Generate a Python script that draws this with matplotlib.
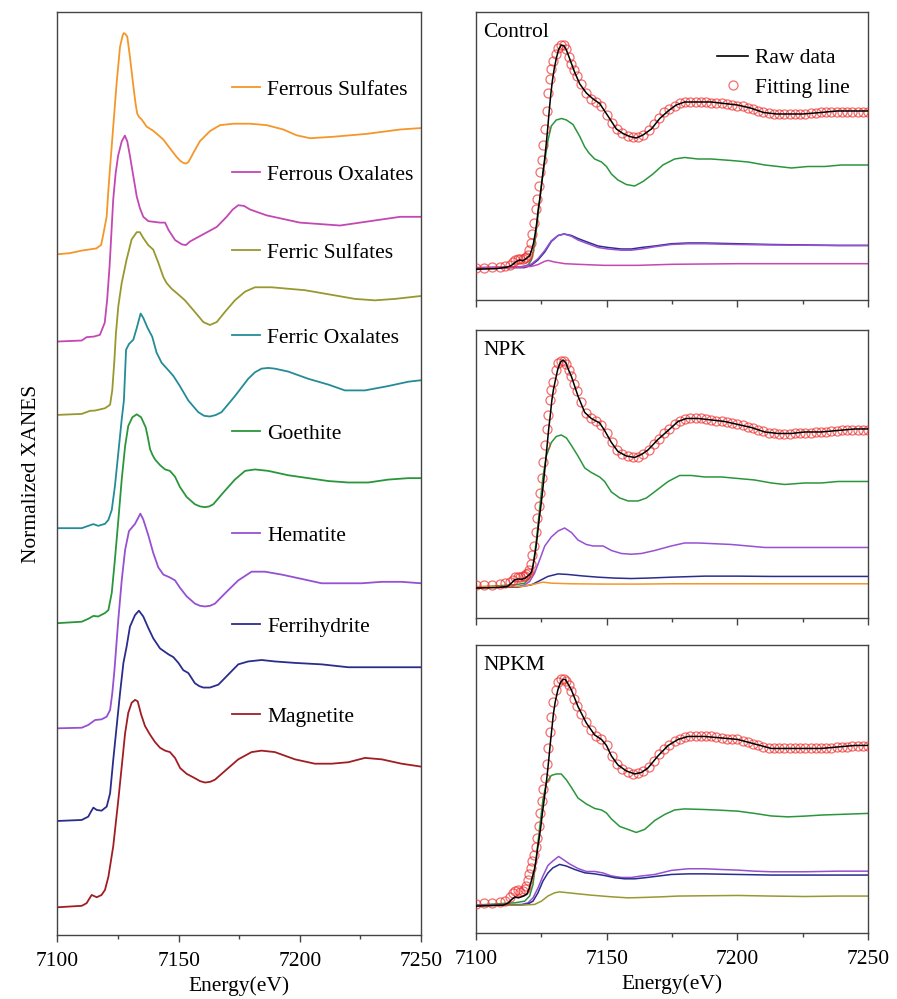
import matplotlib
matplotlib.use('Agg')
import matplotlib.pyplot as plt
from matplotlib.lines import Line2D
from matplotlib.legend import Legend
from matplotlib.ticker import MultipleLocator

plt.rcParams['font.family'] = ['Liberation Serif', 'DejaVu Serif']
FS = 15.5

# ---------------- Left panel: reference spectra (normalized, stacked) ----------------
ref_names = ["Ferrous Sulfates", "Ferrous Oxalates", "Ferric Sulfates", "Ferric Oxalates",
             "Goethite", "Hematite", "Ferrihydrite", "Magnetite"]
ref_colors = ["#F5962A", "#C348B4", "#989830", "#238C96", "#2A963C", "#9650D2", "#2A2D8C", "#A01E23"]
ref_offsets = [4.503, 3.901, 3.395, 2.614, 1.959, 1.234, 0.595, 0.0]
ref_label_y = [0.9155, 0.8234, 0.7389, 0.6468, 0.5428, 0.4323, 0.3337, 0.2362]

E_fsul = [7100, 7105, 7110, 7112, 7116, 7118, 7119, 7120.3, 7120.9, 7121.7, 7123, 7124.4, 7125.8,
          7126.9, 7127.4, 7127.9, 7128.8, 7129.9, 7131.3, 7132.2, 7132.9, 7133.7, 7134.7, 7136.8,
          7139.6, 7141.7, 7143.7, 7146.4, 7149.2, 7150.6, 7151.9, 7153, 7154, 7155, 7156.1, 7158.8,
          7163, 7167.1, 7172.6, 7179.5, 7186.3, 7193.2, 7198.7, 7204.2, 7213.9, 7227.6, 7241.4, 7250]
y_fsul = [0, 0.007, 0.025, 0.03, 0.04, 0.064, 0.145, 0.26, 0.42, 0.60, 0.88, 1.18, 1.43,
          1.51, 1.525, 1.52, 1.50, 1.36, 1.16, 1.04, 0.97, 0.945, 0.93, 0.88,
          0.85, 0.82, 0.79, 0.73, 0.67, 0.645, 0.63, 0.625, 0.635, 0.665, 0.70, 0.78,
          0.85, 0.89, 0.90, 0.90, 0.89, 0.86, 0.82, 0.80, 0.81, 0.83, 0.86, 0.87]

E_foxa = [7100, 7110, 7112, 7115, 7117.5, 7119.5, 7120.5, 7121.5, 7123, 7124, 7125, 7126.5,
          7127.8, 7128.8, 7129.9, 7131.3, 7132.7, 7134, 7135.4, 7137.5, 7142.3, 7144.4, 7145.8,
          7148.5, 7151.3, 7153, 7154.7, 7160.2, 7165.7, 7169.8, 7172.3, 7174.6, 7177, 7179.5,
          7186.3, 7200, 7216.6, 7229, 7241.4, 7250]
y_foxa = [0, 0.007, 0.03, 0.034, 0.046, 0.13, 0.29, 0.52, 0.98, 1.16, 1.28, 1.38,
          1.42, 1.38, 1.28, 1.14, 1.00, 0.92, 0.86, 0.83, 0.82, 0.82, 0.77,
          0.70, 0.67, 0.665, 0.69, 0.74, 0.79, 0.86, 0.91, 0.94, 0.935, 0.91,
          0.87, 0.82, 0.80, 0.83, 0.86, 0.86]

E_fesu = [7100, 7110, 7113.4, 7115.5, 7119.6, 7121.7, 7122.6, 7123.5, 7124.1, 7125.1, 7126.5,
          7128.5, 7130.6, 7132.7, 7134, 7135.4, 7137.5, 7139.5, 7141.6, 7143.7, 7145, 7147.1,
          7149.9, 7152.6, 7156.7, 7160.2, 7162.9, 7165.7, 7169.1, 7173.2, 7177.4, 7181.5,
          7188.4, 7195.2, 7202.1, 7209, 7215.9, 7222.7, 7231, 7239.3, 7250]
y_fesu = [0, 0.007, 0.028, 0.03, 0.046, 0.07, 0.17, 0.38, 0.56, 0.75, 0.91,
          1.07, 1.21, 1.26, 1.26, 1.22, 1.17, 1.14, 1.05, 0.95, 0.91, 0.87,
          0.83, 0.79, 0.71, 0.64, 0.62, 0.64, 0.71, 0.79, 0.85, 0.88,
          0.88, 0.87, 0.86, 0.84, 0.82, 0.80, 0.79, 0.80, 0.82]

E_feox = [7100, 7110, 7112.7, 7114.8, 7116.8, 7119.6, 7121, 7122.4, 7123.7, 7125.1, 7126.5,
          7127.4, 7128.3, 7129.5, 7131.3, 7132.7, 7134.3, 7135.4, 7137.2, 7139.1, 7140.9, 7143,
          7145.7, 7147.8, 7150.5, 7154, 7158.1, 7160.5, 7162.9, 7165.3, 7167.7, 7173.2, 7178.7,
          7181.5, 7184.2, 7187, 7189.7, 7195.2, 7203.5, 7211.8, 7218.6, 7226.9, 7236.5, 7244.8, 7250]
y_feox = [0, 0, 0.016, 0.028, 0.016, 0.03, 0.057, 0.126, 0.29, 0.52, 0.75,
          0.88, 1.23, 1.27, 1.30, 1.38, 1.48, 1.45, 1.38, 1.32, 1.21, 1.14,
          1.09, 1.05, 0.98, 0.88, 0.80, 0.775, 0.77, 0.78, 0.80, 0.91, 1.03,
          1.075, 1.10, 1.105, 1.10, 1.08, 1.03, 0.99, 0.95, 0.95, 0.98, 1.01, 1.02]

E_goe = [7100, 7110, 7112.7, 7114.8, 7116.8, 7119.6, 7121, 7122.4, 7123.7, 7125.1, 7126.5,
         7127.9, 7129.2, 7130.9, 7132.7, 7134.5, 7136.4, 7137.3, 7138.2, 7139.2, 7140.2, 7142.3,
         7144.4, 7146.4, 7148.5, 7150.5, 7153.3, 7156.7, 7158.8, 7160.9, 7162.6, 7164.3, 7168.4,
         7173.2, 7177.4, 7181.5, 7187, 7195.2, 7203.5, 7211.8, 7220, 7228.3, 7236.5, 7244.8, 7250]
y_goe = [0, 0.01, 0.03, 0.05, 0.046, 0.07, 0.09, 0.21, 0.44, 0.71, 0.99,
         1.22, 1.36, 1.42, 1.44, 1.42, 1.35, 1.28, 1.20, 1.16, 1.13, 1.09,
         1.06, 1.05, 1.01, 0.94, 0.87, 0.82, 0.805, 0.80, 0.805, 0.82, 0.90,
         0.99, 1.05, 1.06, 1.05, 1.02, 1.00, 0.98, 0.97, 0.97, 0.99, 1.00, 1.00]

E_hem = [7100, 7110, 7112.7, 7115.5, 7118.2, 7120.3, 7121.7, 7122.6, 7123.5, 7125.1, 7126.5,
         7127.9, 7129.5, 7132, 7134.2, 7135.4, 7137.5, 7139.5, 7141.6, 7143.7, 7146.4, 7148.5,
         7150.5, 7153.3, 7156.7, 7158.8, 7160.9, 7163, 7165, 7169.1, 7174.6, 7180.1, 7185.6,
         7192.5, 7200.8, 7209, 7217.3, 7225.5, 7233.8, 7242, 7250]
y_hem = [0, 0.004, 0.023, 0.057, 0.062, 0.08, 0.126, 0.24, 0.40, 0.75, 1.02,
         1.23, 1.36, 1.41, 1.48, 1.44, 1.33, 1.21, 1.11, 1.06, 1.04, 1.02,
         0.97, 0.91, 0.86, 0.845, 0.84, 0.845, 0.86, 0.93, 1.02, 1.08, 1.08,
         1.06, 1.03, 1.00, 1.00, 1.00, 1.01, 1.01, 1.00]

E_fh = [7100, 7110, 7112.7, 7113.8, 7114.8, 7116.2, 7118.2, 7120.3, 7121.7, 7123, 7124.4,
        7125.8, 7127.2, 7128.5, 7129.9, 7132, 7133.6, 7135.4, 7137.5, 7139.5, 7142.3, 7145.7,
        7147.8, 7149.9, 7151.9, 7154, 7156.7, 7158.5, 7160.2, 7162.9, 7166.4, 7170.5, 7174.6,
        7178.7, 7184.2, 7189.7, 7198, 7209, 7220, 7231, 7242, 7250]
y_fh = [0, 0.007, 0.03, 0.064, 0.092, 0.076, 0.071, 0.099, 0.19, 0.42, 0.65,
        0.88, 1.09, 1.20, 1.34, 1.42, 1.45, 1.41, 1.33, 1.26, 1.19, 1.15,
        1.13, 1.09, 1.04, 1.02, 0.95, 0.93, 0.92, 0.92, 0.94, 1.01, 1.08,
        1.10, 1.11, 1.10, 1.09, 1.08, 1.06, 1.06, 1.06, 1.06]

E_mag = [7100, 7110, 7112, 7114.1, 7116.2, 7118.2, 7119.6, 7121, 7123, 7125.1, 7126.5,
         7127.9, 7129.2, 7130.6, 7132, 7133.1, 7134.5, 7136.1, 7138.2, 7140.2, 7142.3, 7144.4,
         7146.4, 7148.5, 7150.6, 7153.3, 7156.7, 7158.8, 7160.9, 7163, 7165, 7169.1, 7174.6,
         7180.1, 7184.2, 7189.7, 7198, 7206.2, 7213.1, 7220, 7226.9, 7233.8, 7242, 7250]
y_mag = [0, 0.01, 0.028, 0.085, 0.069, 0.085, 0.12, 0.21, 0.42, 0.74, 0.97,
         1.20, 1.34, 1.41, 1.43, 1.42, 1.33, 1.25, 1.19, 1.14, 1.10, 1.08,
         1.07, 1.03, 0.96, 0.92, 0.89, 0.87, 0.86, 0.865, 0.88, 0.94, 1.02,
         1.07, 1.08, 1.07, 1.02, 0.99, 0.99, 1.00, 1.03, 1.02, 0.99, 0.97]

ref_E = [E_fsul, E_foxa, E_fesu, E_feox, E_goe, E_hem, E_fh, E_mag]
ref_y = [y_fsul, y_foxa, y_fesu, y_feox, y_goe, y_hem, y_fh, y_mag]

# ---------------- Right panels: samples ----------------
panel_names = ["Control", "NPK", "NPKM"]
panel_ylims = [(-0.22, 1.70), (-0.21, 1.71), (-0.19, 1.73)]

# energy grid of the fitted curves
E_fit = [7100, 7103, 7106, 7109, 7111, 7113, 7114, 7115, 7116, 7117, 7118, 7118.6, 7119.2,
         7119.8, 7120.4, 7121, 7121.6, 7122.2, 7122.8, 7123.4, 7124, 7124.6, 7125.2, 7125.8,
         7126.4, 7127, 7127.6, 7128.2, 7128.8, 7129.5, 7130.5, 7131.5, 7132.5, 7133.5, 7134.5,
         7135.5, 7136.5, 7137.5, 7138.5,
         7140, 7142, 7144, 7146, 7148, 7150, 7152, 7154, 7156, 7158, 7160, 7162, 7164, 7166,
         7168, 7170, 7172, 7174, 7176, 7178, 7180, 7182, 7184, 7186, 7188, 7190, 7192, 7194,
         7196, 7198, 7200, 7202, 7204, 7206, 7208, 7210, 7212, 7214, 7216, 7218, 7220, 7222,
         7224, 7226, 7228, 7230, 7232, 7234, 7236, 7238, 7240, 7242, 7244, 7246, 7248, 7250]

fit_control = [-0.005, -0.004, -0.002, 0.0, 0.005, 0.015, 0.03, 0.045, 0.055, 0.052, 0.055, 0.06, 0.068,
               0.08, 0.11, 0.16, 0.22, 0.29, 0.385, 0.455, 0.54, 0.63, 0.71, 0.81,
               0.92, 1.04, 1.16, 1.25, 1.32, 1.37, 1.42, 1.46, 1.48, 1.48, 1.45,
               1.40, 1.35, 1.31, 1.27,
               1.22, 1.16, 1.12, 1.10, 1.07, 1.01, 0.96, 0.92, 0.89, 0.875, 0.865, 0.865, 0.88, 0.91,
               0.95, 0.99, 1.03, 1.055, 1.075, 1.09, 1.10, 1.10, 1.10, 1.10, 1.10, 1.095, 1.09, 1.09,
               1.085, 1.08, 1.075, 1.07, 1.06, 1.05, 1.04, 1.03, 1.025, 1.02, 1.02, 1.02, 1.02, 1.02,
               1.02, 1.02, 1.025, 1.025, 1.03, 1.03, 1.03, 1.035, 1.035, 1.035, 1.035, 1.035, 1.035, 1.035]
fit_npk = [0.01, 0.01, 0.012, 0.015, 0.02, 0.03, 0.045, 0.06, 0.065, 0.062, 0.068, 0.072, 0.08,
           0.09, 0.11, 0.15, 0.21, 0.27, 0.36, 0.455, 0.535, 0.625, 0.725, 0.83,
           0.94, 1.05, 1.14, 1.24, 1.31, 1.36, 1.44, 1.49, 1.505, 1.505, 1.48,
           1.44, 1.40, 1.35, 1.30,
           1.23, 1.155, 1.12, 1.10, 1.075, 1.02, 0.96, 0.91, 0.885, 0.87, 0.86, 0.865, 0.885, 0.91,
           0.95, 0.985, 1.02, 1.05, 1.08, 1.10, 1.115, 1.12, 1.12, 1.12, 1.115, 1.11, 1.105, 1.10,
           1.095, 1.09, 1.08, 1.075, 1.065, 1.055, 1.045, 1.035, 1.025, 1.02, 1.015, 1.015, 1.015, 1.02,
           1.02, 1.025, 1.025, 1.03, 1.03, 1.03, 1.035, 1.035, 1.04, 1.04, 1.04, 1.04, 1.04, 1.04]
fit_npkm = [0.005, 0.008, 0.01, 0.015, 0.025, 0.05, 0.075, 0.09, 0.095, 0.085, 0.09, 0.10, 0.12,
            0.16, 0.2, 0.24, 0.29, 0.33, 0.38, 0.445, 0.52, 0.61, 0.69, 0.77,
            0.845, 0.935, 1.04, 1.15, 1.25, 1.35, 1.43, 1.48, 1.50, 1.505, 1.49,
            1.46, 1.42, 1.37, 1.32,
            1.27, 1.215, 1.165, 1.125, 1.10, 1.06, 0.99, 0.935, 0.905, 0.885, 0.872, 0.875, 0.89, 0.915,
            0.955, 1.0, 1.035, 1.065, 1.09, 1.105, 1.115, 1.12, 1.12, 1.12, 1.12, 1.12, 1.115, 1.11,
            1.105, 1.10, 1.10, 1.09, 1.08, 1.07, 1.06, 1.05, 1.045, 1.04, 1.04, 1.04, 1.04, 1.04,
            1.04, 1.04, 1.04, 1.04, 1.04, 1.045, 1.045, 1.05, 1.05, 1.05, 1.055, 1.055, 1.055, 1.055]

# raw data (black)
E_raw_control = [7100, 7108, 7112, 7113.5, 7115.4, 7116.7, 7118, 7119.3, 7120.5, 7121.4, 7122, 7122.6,
                 7123.2, 7123.8, 7124.4, 7125, 7125.6, 7126.2, 7126.8, 7127.4, 7128, 7128.6, 7129.2,
                 7129.9, 7130.7, 7131.6, 7132.6, 7133.6, 7134.5, 7135.8, 7137.7, 7139.7, 7142.2,
                 7144.8, 7147.3, 7149.2, 7151.1, 7153.7, 7156.2, 7158.8, 7161.3, 7163.9, 7167.1,
                 7170.3, 7173.5, 7176.6, 7179.8, 7184.9, 7190, 7195, 7200, 7205, 7210, 7215, 7220,
                 7225, 7232, 7238, 7244, 7250]
raw_control = [-0.015, -0.011, 0.0, 0.01, 0.036, 0.047, 0.042, 0.058, 0.075, 0.12, 0.16, 0.22,
               0.29, 0.385, 0.455, 0.54, 0.63, 0.71, 0.81, 0.92, 1.04, 1.15, 1.24,
               1.32, 1.39, 1.45, 1.48, 1.475, 1.45, 1.39, 1.30, 1.22, 1.16,
               1.12, 1.09, 1.04, 0.99, 0.92, 0.89, 0.87, 0.86, 0.88, 0.92,
               0.99, 1.04, 1.08, 1.10, 1.10, 1.10, 1.09, 1.08, 1.06, 1.03, 1.02, 1.02,
               1.02, 1.03, 1.04, 1.04, 1.04]

E_raw_npk = [7100, 7108, 7112, 7113.5, 7114.8, 7116.1, 7117.5, 7118.8, 7120.2, 7121.2, 7121.8, 7122.4,
             7123, 7123.6, 7124.2, 7124.8, 7125.4, 7126, 7126.6, 7127.2, 7127.8, 7128.4, 7129,
             7129.6, 7130.3, 7131.3, 7132.3, 7133.3, 7134.4, 7135.5, 7136.5, 7139, 7141.6, 7144.1,
             7147.3, 7149.2, 7151.8, 7154.3, 7157.5, 7160.7, 7163.3, 7165.8, 7169.6, 7173.5,
             7177.3, 7180.5, 7185, 7190.1, 7195.1, 7200.2, 7205.3, 7210.5, 7215.5, 7220.7,
             7225.8, 7232.1, 7238.5, 7244.9, 7250]
raw_npk = [-0.011, -0.007, 0.0, 0.022, 0.044, 0.05, 0.048, 0.056, 0.075, 0.095, 0.14, 0.2,
           0.27, 0.36, 0.455, 0.535, 0.625, 0.725, 0.83, 0.94, 1.05, 1.14, 1.24,
           1.31, 1.37, 1.45, 1.495, 1.51, 1.49, 1.44, 1.40, 1.27, 1.16, 1.12,
           1.09, 1.04, 0.96, 0.90, 0.87, 0.86, 0.88, 0.91, 0.98, 1.04,
           1.10, 1.12, 1.12, 1.11, 1.10, 1.08, 1.06, 1.03, 1.02, 1.02,
           1.03, 1.03, 1.04, 1.05, 1.05]

E_raw_npkm = [7100, 7110.5, 7112.4, 7113.6, 7114.9, 7116.2, 7118.1, 7119.5, 7120.4, 7121.2, 7121.8,
              7122.4, 7123, 7123.6, 7124.2, 7124.8, 7125.4, 7126, 7126.6, 7127.2, 7127.8, 7128.4,
              7129, 7129.6, 7130.3, 7131.3, 7132.3, 7133.3, 7134.2, 7135.2, 7136.5, 7139, 7142.2,
              7145.4, 7148, 7149.9, 7151.8, 7154.3, 7157.5, 7160.7, 7163.3, 7165.8, 7169.6,
              7173.5, 7177.3, 7181.1, 7187.5, 7193.9, 7200.2, 7206.6, 7213, 7219.4, 7225.8,
              7232.1, 7238.5, 7244.9, 7250]
raw_npkm = [-0.011, -0.004, 0.011, 0.033, 0.05, 0.044, 0.056, 0.07, 0.11, 0.16, 0.2,
            0.24, 0.30, 0.38, 0.445, 0.52, 0.61, 0.69, 0.77, 0.86, 0.96, 1.07,
            1.17, 1.27, 1.35, 1.43, 1.48, 1.50, 1.50, 1.47, 1.43, 1.32, 1.21,
            1.13, 1.10, 1.06, 0.99, 0.93, 0.89, 0.87, 0.88, 0.91, 0.99,
            1.06, 1.10, 1.12, 1.12, 1.11, 1.10, 1.07, 1.04, 1.04, 1.04,
            1.04, 1.05, 1.06, 1.06]

# fitted components
comp_control = [
    ("#2A963C",
     [7100, 7117.3, 7119.9, 7121.2, 7122.5, 7123.7, 7125, 7126.3, 7127.6, 7128.8, 7130.7, 7132.7,
      7134.6, 7137.1, 7139.7, 7141.6, 7143.2, 7145.4, 7148, 7149.9, 7151.8, 7154.3, 7157.5, 7160.7,
      7163.9, 7167.7, 7171.5, 7176, 7179.8, 7184.9, 7190, 7197.7, 7204.1, 7210.5, 7215.6, 7220.7,
      7227, 7233.4, 7239.8, 7250],
     [-0.005, 0.0, 0.013, 0.047, 0.16, 0.34, 0.54, 0.71, 0.85, 0.94, 0.98, 0.99,
      0.98, 0.95, 0.87, 0.80, 0.76, 0.72, 0.70, 0.67, 0.62, 0.58, 0.55, 0.54,
      0.57, 0.62, 0.68, 0.72, 0.73, 0.72, 0.72, 0.71, 0.70, 0.68, 0.67, 0.66,
      0.67, 0.67, 0.68, 0.68]),
    ("#2A2D8C",
     [7100, 7118.6, 7121.2, 7123.7, 7126.3, 7128.8, 7131.4, 7133.7, 7136.5, 7139, 7142, 7146.7,
      7150.5, 7155.6, 7159.4, 7163.3, 7168.4, 7174.7, 7181.1, 7187.5, 7200.2, 7213, 7225.8,
      7238.5, 7250],
     [-0.007, -0.004, 0.013, 0.047, 0.10, 0.17, 0.21, 0.22, 0.21, 0.19, 0.17, 0.14,
      0.13, 0.12, 0.12, 0.13, 0.14, 0.155, 0.16, 0.16, 0.155, 0.15, 0.147,
      0.144, 0.144]),
    ("#9650D2",
     [7100, 7116, 7118.6, 7121.2, 7123.7, 7126.3, 7128.8, 7131.4, 7133.7, 7136.5, 7139, 7142,
      7146.7, 7150.5, 7155.6, 7159.4, 7163.3, 7168.4, 7174.7, 7181.1, 7187.5, 7200.2, 7213,
      7225.8, 7238.5, 7250],
     [-0.004, 0.0, 0.005, 0.02, 0.055, 0.11, 0.175, 0.21, 0.22, 0.205, 0.18, 0.16,
      0.13, 0.12, 0.112, 0.112, 0.12, 0.135, 0.15, 0.155, 0.155, 0.15, 0.147,
      0.145, 0.143, 0.143]),
    ("#C348B4",
     [7100, 7117.3, 7121.2, 7123.7, 7126.3, 7127.6, 7130.1, 7134, 7139, 7149, 7162, 7175,
      7200, 7250],
     [-0.005, 0.0, 0.004, 0.016, 0.038, 0.044, 0.033, 0.022, 0.018, 0.011, 0.011, 0.018,
      0.022, 0.022]),
]

comp_npk = [
    ("#2A963C",
     [7100, 7114.8, 7118.6, 7120.5, 7121.8, 7123.1, 7124.4, 7125.6, 7126.9, 7128.8, 7130.7,
      7132.6, 7134.6, 7136.5, 7139, 7141.6, 7144.1, 7147.3, 7149.2, 7151.8, 7155, 7158.2,
      7162, 7165.2, 7169, 7173.5, 7177.9, 7182.4, 7187.5, 7193.9, 7200.2, 7206.6, 7213,
      7218.1, 7225.8, 7232.1, 7238.5, 7250],
     [-0.004, 0.011, 0.022, 0.056, 0.13, 0.31, 0.53, 0.73, 0.87, 0.96, 1.00,
      1.01, 0.99, 0.94, 0.87, 0.79, 0.76, 0.73, 0.70, 0.63, 0.59, 0.57,
      0.57, 0.59, 0.64, 0.70, 0.74, 0.74, 0.73, 0.73, 0.72, 0.71, 0.69,
      0.68, 0.69, 0.69, 0.70, 0.70]),
    ("#9650D2",
     [7100, 7116.1, 7118.6, 7120.5, 7122.4, 7124.4, 7126.3, 7128.8, 7131.4, 7133.9, 7136.5,
      7139, 7142.2, 7144.8, 7148.6, 7151.8, 7155.6, 7159.4, 7163.3, 7168.4, 7174.7, 7179.8,
      7185, 7191.3, 7197.7, 7204.1, 7210.5, 7219.4, 7232.1, 7250],
     [-0.004, 0.0, 0.011, 0.033, 0.089, 0.18, 0.27, 0.33, 0.37, 0.39, 0.36,
      0.31, 0.28, 0.27, 0.27, 0.24, 0.22, 0.215, 0.22, 0.24, 0.27, 0.29,
      0.29, 0.285, 0.28, 0.27, 0.26, 0.26, 0.26, 0.26]),
    ("#2A2D8C",
     [7100, 7116.1, 7121.2, 7123.7, 7127.5, 7131.4, 7135.2, 7140.3, 7146.7, 7153.1, 7159.4,
      7165.8, 7174.7, 7187.5, 7200.2, 7213, 7225.8, 7238.5, 7250],
     [-0.004, -0.004, 0.011, 0.033, 0.067, 0.084, 0.08, 0.071, 0.062, 0.056, 0.053,
      0.056, 0.062, 0.069, 0.069, 0.067, 0.067, 0.067, 0.067]),
    ("#F5962A",
     [7100, 7117.3, 7122.4, 7125.6, 7128.8, 7136.5, 7149.2, 7162, 7174.7, 7200, 7250],
     [0.0, 0.0, 0.016, 0.029, 0.022, 0.018, 0.016, 0.016, 0.018, 0.018, 0.018]),
]

comp_npkm = [
    ("#2A963C",
     [7100, 7114.8, 7118.6, 7120.5, 7121.8, 7123.1, 7124.4, 7125.6, 7126.9, 7128.8, 7130.7,
      7132.6, 7134.6, 7136.5, 7139, 7142.2, 7145.4, 7148, 7149.9, 7151.8, 7155, 7158.2,
      7161.3, 7164.5, 7168.4, 7172.2, 7176, 7179.8, 7187.5, 7193.9, 7200.2, 7206.6, 7213,
      7219.4, 7225.8, 7232.1, 7238.5, 7250],
     [-0.004, 0.011, 0.022, 0.056, 0.133, 0.32, 0.52, 0.70, 0.81, 0.86, 0.87,
      0.87, 0.83, 0.78, 0.71, 0.67, 0.64, 0.63, 0.61, 0.57, 0.52, 0.50,
      0.48, 0.50, 0.56, 0.60, 0.63, 0.637, 0.633, 0.628, 0.622, 0.607, 0.59,
      0.584, 0.589, 0.596, 0.60, 0.607]),
    ("#9650D2",
     [7100, 7117.3, 7119.9, 7121.8, 7123.7, 7125.6, 7127.5, 7129.4, 7131.6, 7133.3, 7135.8,
      7139, 7142.2, 7145.4, 7148.6, 7151.8, 7155.6, 7159.4, 7163.3, 7168.4, 7174.7, 7181.1,
      7187.5, 7193.9, 7200.2, 7206.6, 7213, 7225.8, 7238.5, 7250],
     [-0.004, 0.0, 0.011, 0.044, 0.11, 0.19, 0.26, 0.29, 0.32, 0.30, 0.27,
      0.24, 0.22, 0.22, 0.21, 0.19, 0.18, 0.18, 0.19, 0.20, 0.227, 0.238,
      0.238, 0.233, 0.229, 0.222, 0.218, 0.218, 0.222, 0.222]),
    ("#2A2D8C",
     [7100, 7117.3, 7119.9, 7121.8, 7123.7, 7125.6, 7127.5, 7129.4, 7132, 7134.6, 7137.8,
      7141.6, 7145.4, 7149.2, 7153.1, 7156.9, 7160.7, 7164.5, 7169.6, 7174.7, 7181.1, 7187.5,
      7200.2, 7213, 7225.8, 7238.5, 7250],
     [-0.007, -0.004, 0.004, 0.022, 0.078, 0.156, 0.21, 0.244, 0.267, 0.256, 0.233,
      0.211, 0.204, 0.193, 0.178, 0.171, 0.171, 0.178, 0.189, 0.20, 0.204, 0.204,
      0.20, 0.196, 0.196, 0.196, 0.196]),
    ("#989830",
     [7100, 7117.3, 7122.4, 7125, 7127.5, 7130.1, 7132, 7135.2, 7139, 7144.1, 7151.8, 7158.2,
      7164.5, 7170.9, 7177.3, 7187.5, 7200.2, 7213, 7225.8, 7238.5, 7250],
     [-0.007, -0.004, 0.0, 0.022, 0.056, 0.078, 0.084, 0.078, 0.071, 0.062, 0.051, 0.044,
      0.047, 0.051, 0.056, 0.058, 0.06, 0.056, 0.053, 0.056, 0.056]),
]

panel_raw = [(E_raw_control, raw_control), (E_raw_npk, raw_npk), (E_raw_npkm, raw_npkm)]
panel_fit = [fit_control, fit_npk, fit_npkm]
panel_comps = [comp_control, comp_npk, comp_npkm]

x_ticks = [7100, 7150, 7200, 7250]
x_ticklabels = ["7100", "7150", "7200", "7250"]

FIT_COLOR = "#EE3030"
SPINE = "#444444"

fig = plt.figure(figsize=(8.97, 9.99), dpi=100)


def style_axis(ax, show_labels):
    ax.set_xlim(7100, 7250)
    ax.set_xticks(x_ticks)
    ax.xaxis.set_minor_locator(MultipleLocator(25))
    ax.set_yticks([])
    for s in ax.spines.values():
        s.set_color(SPINE)
        s.set_linewidth(1.0)
    ax.tick_params(axis='x', which='major', direction='out', length=5, width=1.0,
                   color=SPINE, pad=7, labelsize=FS)
    ax.tick_params(axis='x', which='minor', direction='out', length=3, width=1.0, color=SPINE)
    if show_labels:
        ax.set_xticklabels(x_ticklabels)
        ax.set_xlabel("Energy(eV)", fontsize=FS, labelpad=4)
    else:
        ax.tick_params(axis='x', labelbottom=False)


# ---- left panel
axL = fig.add_axes([0.0641, 0.0641, 0.4052, 0.924])
for E, y, off, c in zip(ref_E, ref_y, ref_offsets, ref_colors):
    axL.plot(E, [v + off for v in y], color=c, lw=1.3, solid_joinstyle='round')
axL.set_ylim(-0.191, 6.174)
style_axis(axL, True)
axL.set_ylabel("Normalized XANES", fontsize=FS, labelpad=12)

for name, c, ly in zip(ref_names, ref_colors, ref_label_y):
    leg = Legend(axL, [Line2D([], [], color=c, lw=1.3)], [name], loc='center left',
                 bbox_to_anchor=(0.48, ly), frameon=False, fontsize=FS,
                 handlelength=1.3, handletextpad=0.33, borderpad=0, borderaxespad=0)
    axL.add_artist(leg)

# ---- right panels
right_boxes = [[0.5307, 0.6997, 0.437, 0.2883],
               [0.5307, 0.3814, 0.437, 0.2883],
               [0.5307, 0.0661, 0.437, 0.2883]]
for i in range(3):
    ax = fig.add_axes(right_boxes[i])
    for c, E, y in panel_comps[i]:
        ax.plot(E, y, color=c, lw=1.1, zorder=2, solid_joinstyle='round')
    ax.plot(E_fit, panel_fit[i], ls='none', marker='o', ms=6.5, mfc='none',
            mec=FIT_COLOR, mew=0.9, alpha=0.7, zorder=3)
    Er, yr = panel_raw[i]
    ax.plot(Er, yr, color='black', lw=1.1, zorder=4, solid_joinstyle='round')
    ax.set_ylim(*panel_ylims[i])
    style_axis(ax, i == 2)
    ax.text(0.018, 0.93, panel_names[i], transform=ax.transAxes, fontsize=FS,
            ha='left', va='center')
    if i == 0:
        ax.legend(handles=[Line2D([], [], color='black', lw=1.2),
                           Line2D([], [], ls='none', marker='o', ms=6.5, mfc='none',
                                  mec=FIT_COLOR, mew=0.9, alpha=0.7)],
                  labels=["Raw data", "Fitting line"], loc='upper left',
                  bbox_to_anchor=(0.615, 0.875), frameon=False, fontsize=FS,
                  handlelength=1.45, handletextpad=0.33, labelspacing=0.45,
                  borderpad=0, borderaxespad=0)

fig.savefig("out.png", dpi=100)
